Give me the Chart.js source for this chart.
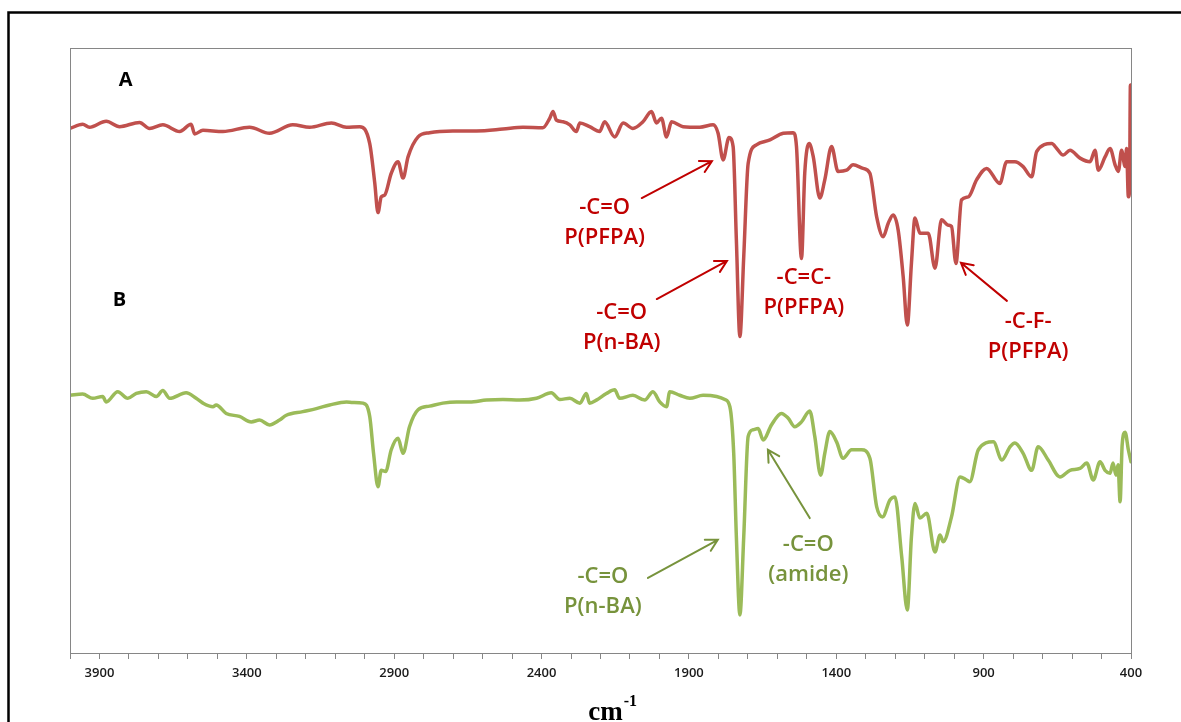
<!DOCTYPE html>
<html>
<head>
<meta charset="utf-8">
<script src="https://cdn.jsdelivr.net/npm/chart.js@4/dist/chart.umd.min.js"></script>
<style>
  html, body { margin: 0; padding: 0; background: #fff; }
  #wrap { width: 1181px; height: 722px; position: relative; }
</style>
</head>
<body>
<div id="wrap"><canvas id="ir-chart"></canvas></div>
<script>
// wavenumber (cm-1) and offset transmittance
const wavenumbersA = [4000,3957,3934,3877,3832,3764,3730,3685,3628,3589,
  3577,3549,3481,3391,3323,3244,3187,3113,3062,3017,
  2983,2966,2955,2944,2932,2910,2887,2870,2853,2819,
  2780,2701,2621,2531,2463,2396,2372,2361,2350,2327,
  2304,2282,2270,2237,2203,2186,2152,2123,2090,2056,
  2027,2010,1993,1976,1959,1920,1863,1818,1801,1784,
  1764,1750,1739,1727,1714,1699,1671,1625,1580,1546,
  1535,1518,1507,1492,1478,1456,1439,1416,1394,1365,
  1343,1309,1286,1263,1241,1224,1207,1190,1173,1159,
  1145,1133,1116,1088,1065,1043,1020,1009,994,975,
  952,924,890,845,822,794,766,737,720,669,
  652,630,607,573,539,522,511,488,471,454,
  443,432,420,415,409,405,402,400];
const valuesA = [86.7,87.4,86.9,87.9,87.0,87.7,86.7,87.3,86.2,87.4,
  85.8,86.4,86.2,86.9,85.9,87.3,86.9,87.6,86.9,87.0,
  84.2,77.7,72.8,75.4,75.7,79.3,81.2,78.5,82.0,85.3,
  86.0,86.3,86.3,86.6,86.9,86.8,88.4,89.5,88.1,87.8,
  87.3,86.2,87.6,87.0,86.2,87.8,85.3,87.6,86.7,87.8,
  89.5,87.6,88.4,85.3,87.8,87.0,86.9,87.3,85.9,81.5,
  85.2,83.7,68.3,52.3,65.5,80.9,84.0,84.8,85.9,86.0,
  83.7,65.2,79.3,84.2,82.0,75.2,78.2,83.7,79.6,79.8,
  80.7,80.1,79.3,72.1,68.8,71.0,72.4,69.9,62.2,54.2,
  64.4,71.9,69.4,69.4,63.6,71.6,70.7,70.5,64.4,74.9,
  75.4,78.2,80.1,77.6,81.2,81.2,80.4,78.7,82.9,84.2,
  83.4,82.3,83.1,81.8,81.2,83.1,79.8,82.0,83.4,80.7,
  79.6,83.1,80.4,83.4,75.4,76.5,93.9,88.1];

const wavenumbersB = [4000,3957,3923,3889,3877,3838,3804,3775,3741,3707,
  3685,3662,3606,3572,3549,3515,3504,3470,3425,3385,
  3357,3323,3289,3266,3210,3164,3119,3062,3040,3006,
  2983,2970,2955,2944,2929,2910,2887,2870,2848,2819,
  2780,2735,2689,2644,2587,2531,2474,2417,2367,2338,
  2304,2270,2248,2237,2214,2180,2152,2135,2090,2050,
  2022,1999,1976,1965,1931,1897,1852,1806,1778,1761,
  1748,1739,1727,1714,1699,1682,1665,1648,1620,1586,
  1563,1541,1518,1490,1473,1453,1439,1422,1399,1377,
  1348,1314,1286,1263,1243,1218,1201,1178,1159,1145,
  1133,1116,1093,1065,1048,1037,1009,980,958,947,
  918,867,838,810,794,766,737,715,681,641,
  607,573,550,528,505,488,471,461,451,444,
  437,430,420,409,400];
const valuesB = [42.6,42.8,42.1,42.4,41.5,43.2,42.1,42.9,43.2,42.4,
  43.4,42.1,43.0,42.1,41.3,40.7,41.0,39.6,39.1,38.2,
  38.5,37.7,38.5,39.3,39.9,40.4,41.0,41.5,41.4,41.3,
  39.1,33.0,27.5,30.2,30.0,33.6,35.5,33.0,37.4,40.2,
  40.8,41.3,41.5,41.5,41.8,41.9,41.8,42.1,43.0,41.9,
  42.1,41.3,42.9,41.3,41.8,42.9,43.5,42.1,42.6,41.8,
  43.2,41.5,40.7,43.2,42.6,42.1,42.6,42.4,41.9,40.7,
  33.0,19.2,6.3,19.2,35.8,36.9,37.1,35.2,37.7,39.6,
  38.8,37.4,38.2,40.0,35.8,29.4,33.0,36.6,34.9,32.2,
  33.6,33.6,32.2,24.2,22.5,25.3,25.8,15.9,7.1,19.2,
  24.7,22.3,23.1,16.7,19.5,18.4,22.5,29.1,28.6,28.3,
  33.6,34.9,31.9,34.1,34.7,33.0,30.2,34.1,31.9,29.1,
  30.2,30.5,31.4,28.6,31.6,30.2,29.7,31.4,29.4,31.1,
  25.0,34.4,36.5,33.6,31.6];

const tickLabels = [3900, 3400, 2900, 2400, 1900, 1400, 900, 400];

const RED = '#C0504D', RED_TXT = '#C00000';
const GREEN = '#9BBB59', GREEN_TXT = '#77933C';

// peak labels: text anchored at [wavenumber, value], arrow tail -> head
const notes = [
  { lines: ['-C=O', 'P(PFPA)'], at: [2186, 73.6], color: RED_TXT, arrow: [[2060, 75.2], [1822, 81.3]] },
  { lines: ['-C=O', 'P(n-BA)'], at: [2128, 56.2], color: RED_TXT, arrow: [[2009, 58.5], [1771, 64.8]] },
  { lines: ['-C=C-', 'P(PFPA)'], at: [1510, 62.0], color: RED_TXT },
  { lines: ['-C-F-', 'P(PFPA)'], at: [749, 54.8], color: RED_TXT, arrow: [[821, 58.2], [977, 64.5]] },
  { lines: ['-C=O', 'P(n-BA)'], at: [2192, 12.6], color: GREEN_TXT, arrow: [[2039, 12.4], [1802, 18.7]] },
  { lines: ['-C=O', '(amide)'], at: [1495, 17.9], color: GREEN_TXT, arrow: [[1490, 22.3], [1632, 33.6]] }
];
const panelTags = [
  { text: 'A', at: [3811, 94.7] },
  { text: 'B', at: [3832, 58.3] }
];

function toPoints(xs, ys) {
  return xs.map((x, i) => ({ x: x, y: ys[i] }));
}

function drawArrow(ctx, x1, y1, x2, y2, color) {
  const ang = Math.atan2(y2 - y1, x2 - x1);
  const len = 13, spread = 0.5;
  ctx.save();
  ctx.strokeStyle = color;
  ctx.lineWidth = 2;
  ctx.lineCap = 'round';
  ctx.beginPath();
  ctx.moveTo(x1, y1);
  ctx.lineTo(x2, y2);
  ctx.moveTo(x2 - len * Math.cos(ang - spread), y2 - len * Math.sin(ang - spread));
  ctx.lineTo(x2, y2);
  ctx.lineTo(x2 - len * Math.cos(ang + spread), y2 - len * Math.sin(ang + spread));
  ctx.stroke();
  ctx.restore();
}

const framePlugin = {
  id: 'frame',
  beforeDraw(chart) {
    const ctx = chart.ctx;
    ctx.save();
    ctx.fillStyle = '#fff';
    ctx.fillRect(0, 0, chart.width, chart.height);
    // outer black frame (runs off the right and bottom edge)
    ctx.strokeStyle = '#000';
    ctx.lineWidth = 2.5;
    ctx.strokeRect(8.5, 12.5, 1400, 1000);
    ctx.restore();
  },
  afterDatasetsDraw(chart) {
    const ctx = chart.ctx;
    const a = chart.chartArea;
    const xs = chart.scales.x, ys = chart.scales.y;
    ctx.save();
    ctx.strokeStyle = '#868686';
    ctx.lineWidth = 1;
    ctx.strokeRect(Math.round(a.left) + 0.5, Math.round(a.top) + 0.5,
      Math.round(a.right - a.left), Math.round(a.bottom - a.top));

    ctx.textAlign = 'center';
    ctx.textBaseline = 'middle';
    ctx.font = '600 22px "Open Sans", sans-serif';
    notes.forEach(n => {
      const px = xs.getPixelForValue(n.at[0]);
      const py = ys.getPixelForValue(n.at[1]);
      ctx.fillStyle = n.color;
      n.lines.forEach((t, i) => ctx.fillText(t, px, py + i * 30));
      if (n.arrow) {
        drawArrow(ctx,
          xs.getPixelForValue(n.arrow[0][0]), ys.getPixelForValue(n.arrow[0][1]),
          xs.getPixelForValue(n.arrow[1][0]), ys.getPixelForValue(n.arrow[1][1]), n.color);
      }
    });

    ctx.fillStyle = '#000';
    ctx.font = 'bold 20px "Open Sans", sans-serif';
    panelTags.forEach(t => {
      ctx.fillText(t.text, xs.getPixelForValue(t.at[0]), ys.getPixelForValue(t.at[1]));
    });

    // axis title cm-1
    const cx = (a.left + a.right) / 2 + 5;
    ctx.textAlign = 'left';
    ctx.textBaseline = 'alphabetic';
    ctx.font = 'bold 27px "Liberation Serif", serif';
    const w = ctx.measureText('cm').width;
    ctx.fillText('cm', cx - w / 2, 720);
    ctx.font = 'bold 16px "Liberation Serif", serif';
    ctx.fillText('-1', cx + w / 2 + 1, 706);
    ctx.restore();
  }
};

const chart = new Chart(document.getElementById('ir-chart'), {
  type: 'line',
  data: {
    datasets: [
      {
        label: 'A',
        data: toPoints(wavenumbersA, valuesA),
        borderColor: RED,
        borderWidth: 3.5,
        pointRadius: 0,
        fill: false,
        cubicInterpolationMode: 'monotone',
        borderJoinStyle: 'round',
        borderCapStyle: 'round'
      },
      {
        label: 'B',
        data: toPoints(wavenumbersB, valuesB),
        borderColor: GREEN,
        borderWidth: 3.5,
        pointRadius: 0,
        fill: false,
        cubicInterpolationMode: 'monotone',
        borderJoinStyle: 'round',
        borderCapStyle: 'round'
      }
    ]
  },
  options: {
    responsive: true,
    maintainAspectRatio: false,
    animation: false,
    layout: { padding: { left: 70, right: 50, top: 48, bottom: 0 } },
    plugins: {
      legend: { display: false },
      tooltip: { enabled: false }
    },
    scales: {
      x: {
        type: 'linear',
        reverse: true,
        min: 400,
        max: 4000,
        afterFit: (scale) => { scale.height = 69; },
        border: { display: true, color: '#868686', width: 1 },
        grid: { drawOnChartArea: false, drawTicks: true, tickLength: 6, color: '#868686' },
        ticks: {
          stepSize: 100,
          autoSkip: false,
          maxRotation: 0,
          padding: 6,
          color: '#1a1a1a',
          font: { family: '"Open Sans", sans-serif', size: 13, weight: '600' },
          callback: (v) => (tickLabels.includes(v) ? String(v) : '')
        }
      },
      y: {
        display: false,
        min: 0,
        max: 100
      }
    }
  },
  plugins: [framePlugin]
});
</script>
</body>
</html>
